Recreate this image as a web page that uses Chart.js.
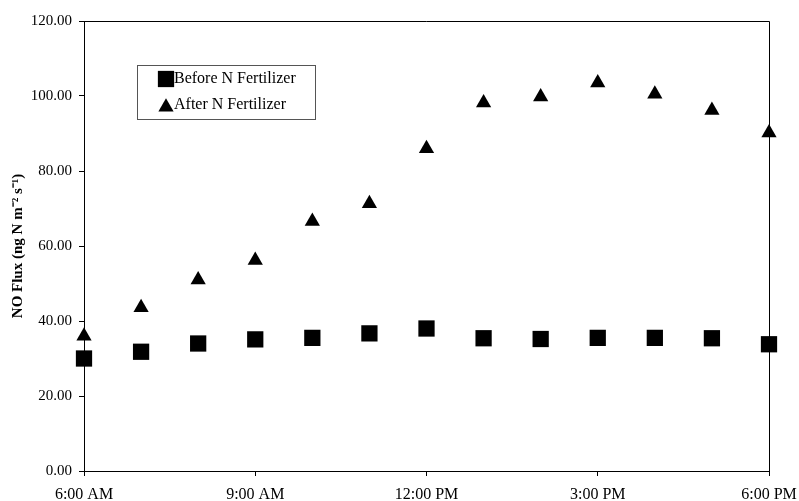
<!DOCTYPE html>
<html>
<head>
<meta charset="utf-8">
<script src="https://cdn.jsdelivr.net/npm/chart.js@4.4.1/dist/chart.umd.min.js"></script>
<style>
  html, body { margin: 0; padding: 0; background: #fff; }
  #wrap { width: 799px; height: 501px; }
</style>
</head>
<body>
<div id="wrap"><canvas id="fluxChart" width="799" height="501"></canvas></div>
<script>
// hours after 6:00 AM, one reading every hour
const hours = ['6:00 AM', '7:00 AM', '8:00 AM', '9:00 AM', '10:00 AM', '11:00 AM', '12:00 PM',
               '1:00 PM', '2:00 PM', '3:00 PM', '4:00 PM', '5:00 PM', '6:00 PM'];
const beforeN = [30.0, 31.8, 34.0, 35.1, 35.5, 36.7, 38.0, 35.4, 35.2, 35.5, 35.5, 35.4, 33.8];
const afterN = [36.0, 43.6, 51.0, 56.2, 66.6, 71.3, 86.0, 98.2, 99.8, 103.5, 100.5, 96.2, 90.2];
const xTickLabels = { 0: '6:00 AM', 3: '9:00 AM', 6: '12:00 PM', 9: '3:00 PM', 12: '6:00 PM' };
const yTicks = [0, 20, 40, 60, 80, 100, 120];

const serif = "'Liberation Serif', 'Times New Roman', serif";

const toPoints = (vals) => vals.map((v, i) => ({ x: i, y: v }));

// box around plot + legend inside the plot
const framePlugin = {
    id: 'frame',
    afterDraw(chart) {
        const { ctx, chartArea: a } = chart;
        ctx.save();
        ctx.strokeStyle = '#000';
        ctx.lineWidth = 1;
        ctx.beginPath();
        ctx.moveTo(a.left, a.top + 0.5);
        ctx.lineTo(a.right + 0.5, a.top + 0.5);
        ctx.lineTo(a.right + 0.5, a.bottom);
        ctx.stroke();

        // legend
        const bx = 137, by = 65, bw = 178, bh = 54;
        ctx.strokeStyle = '#555';
        ctx.strokeRect(bx + 0.5, by + 0.5, bw, bh);
        ctx.font = '16px ' + serif;
        ctx.fillStyle = '#000';
        ctx.textBaseline = 'middle';
        chart.data.datasets.forEach((ds, i) => {
            const cy = by + 14 + i * 26;
            Chart.helpers.drawPoint(ctx, {
                pointStyle: ds.pointStyle,
                radius: ds.pointRadius,
                borderWidth: 0
            }, 166, cy + (ds.pointStyle === 'triangle' ? 2 : 0));
            ctx.fillStyle = '#000';
            ctx.fillText(ds.label, 174, cy);
        });
        ctx.restore();
    }
};

const ctx = document.getElementById('fluxChart').getContext('2d');
new Chart(ctx, {
    type: 'scatter',
    data: {
        datasets: [{
            label: 'Before N Fertilizer',
            data: toPoints(beforeN),
            pointStyle: 'rect',
            pointRadius: 11.5,
            pointHoverRadius: 11.5,
            backgroundColor: '#000',
            borderColor: '#000',
            borderWidth: 0,
            clip: false
        }, {
            label: 'After N Fertilizer',
            data: toPoints(afterN),
            pointStyle: 'triangle',
            pointRadius: 8.8,
            pointHoverRadius: 8.8,
            backgroundColor: '#000',
            borderColor: '#000',
            borderWidth: 0,
            clip: false
        }]
    },
    options: {
        responsive: false,
        animation: false,
        layout: { padding: { left: 0, right: 30, top: 21, bottom: 0 } },
        plugins: {
            legend: { display: false },
            tooltip: { enabled: false }
        },
        scales: {
            x: {
                type: 'linear',
                min: 0,
                max: 12,
                afterBuildTicks: (axis) => {
                    axis.ticks = Object.keys(xTickLabels).map(k => ({ value: +k }));
                },
                afterFit: (axis) => {
                    axis.height = 30;
                    axis.paddingLeft = 0;
                    axis.paddingRight = 0;
                },
                border: { display: true, color: '#000', width: 1 },
                grid: { display: true, drawOnChartArea: false, drawTicks: true, tickLength: 5, color: '#000' },
                ticks: {
                    color: '#000',
                    padding: 9,
                    maxRotation: 0,
                    font: { family: serif, size: 16 },
                    callback: (v) => xTickLabels[v] || ''
                }
            },
            y: {
                min: 0,
                max: 120,
                afterBuildTicks: (axis) => {
                    axis.ticks = yTicks.map(v => ({ value: v }));
                },
                afterFit: (axis) => {
                    axis.width = 84;
                    axis.paddingTop = 0;
                    axis.paddingBottom = 0;
                },
                border: { display: true, color: '#000', width: 1 },
                grid: { display: true, drawOnChartArea: false, drawTicks: true, tickLength: 5, color: '#000' },
                ticks: {
                    color: '#000',
                    padding: 7,
                    font: { family: serif, size: 15 },
                    callback: (v) => v.toFixed(2)
                },
                title: {
                    display: true,
                    text: 'NO Flux (ng N m⁻² s⁻¹)',
                    color: '#000',
                    padding: { top: 9, bottom: 0 },
                    font: { family: serif, size: 15, weight: 'bold' }
                }
            }
        }
    },
    plugins: [framePlugin]
});
</script>
</body>
</html>
